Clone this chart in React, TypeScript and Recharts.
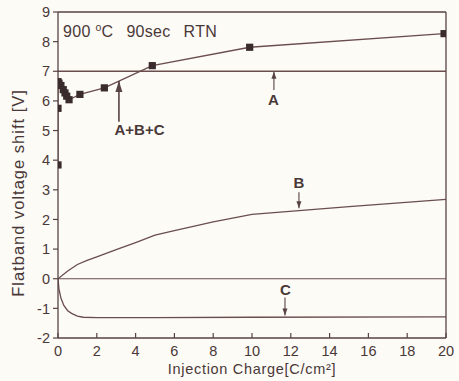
import React from 'react';
import {
  LineChart, Line, XAxis, YAxis, ReferenceLine, ReferenceDot, Label,
} from 'recharts';

// ---- data ----
const xTicks = [0, 2, 4, 6, 8, 10, 12, 14, 16, 18, 20];
const yTicks = [-2, -1, 0, 1, 2, 3, 4, 5, 6, 7, 8, 9];

const abcX = [0, 0, 0, 0.05, 0.15, 0.27, 0.36, 0.45, 0.57, 1.13, 2.39, 4.86, 9.88, 19.9];
const abcY = [3.84, 5.75, 6.65, 6.6, 6.52, 6.38, 6.27, 6.16, 6.04, 6.22, 6.44, 7.19, 7.81, 8.27];

const aX = [0, 20];
const aY = [7, 7];

const bX = [0, 0.5, 1, 1.5, 2, 3, 4, 5, 6, 8, 10, 15, 20];
const bY = [0, 0.26, 0.48, 0.62, 0.74, 0.98, 1.22, 1.47, 1.62, 1.92, 2.17, 2.43, 2.68];

const cX = [0, 0.05, 0.15, 0.3, 0.5, 0.7, 1, 1.3, 2, 5, 10, 20];
const cY = [0, -0.35, -0.65, -0.9, -1.08, -1.17, -1.26, -1.3, -1.31, -1.31, -1.3, -1.29];

const zeroX = [0, 20];
const zeroY = [0, 0];

const annLabels = ['A+B+C', 'A', 'B', 'C'];
const annX = [3.14, 11.13, 12.42, 11.7];
const annTail = [5.3, 6.37, 2.92, -0.63];
const annTip = [6.67, 6.98, 2.38, -1.24];
const annTextX = [4.2, 11.1, 12.42, 11.72];
const annTextY = [4.85, 5.86, 3.05, -0.56];

const toPts = (xs: number[], ys: number[]) => xs.map((x, i) => ({ x, y: ys[i] }));

const AXIS = '#574343';
const LINE = '#6a4d4d';
const TEXT = '#4a3838';
const MARK = '#3a2c2c';
const FONT = '"Liberation Sans", Arial, Helvetica, sans-serif';

const SquareDot = (props: any) => {
  const { cx, cy, index } = props;
  if (cx == null || cy == null) return <g key={`d${index}`} />;
  return <rect key={`d${index}`} x={cx - 3.6} y={cy - 3.6} width={7.2} height={7.2} fill={MARK} />;
};

const XTick = (props: any) => {
  const { x, y, payload } = props;
  const ay = y - 8;
  return (
    <g>
      <line x1={x} x2={x} y1={ay} y2={ay - 5} stroke={AXIS} strokeWidth={1.2} />
      <text x={x} y={y} dy="0.71em" textAnchor="middle" fill={TEXT} fontSize={14.5} fontFamily={FONT}>
        {payload.value}
      </text>
    </g>
  );
};

const makeArrowHead = (up: boolean, big: boolean) => (props: any) => {
  const { cx, cy } = props;
  const w = big ? 3.5 : 2.5;
  const l = big ? 11 : 7;
  const d = up
    ? `M${cx},${cy} L${cx - w},${cy + l} L${cx + w},${cy + l} Z`
    : `M${cx},${cy} L${cx - w},${cy - l} L${cx + w},${cy - l} Z`;
  return <path d={d} fill={AXIS} />;
};

const makeText = (label: string) => (props: any) => {
  const { cx, cy } = props;
  return (
    <text x={cx} y={cy} textAnchor="middle" fill={TEXT} fontSize={15} fontWeight="bold" fontFamily={FONT}>
      {label}
    </text>
  );
};

const TitleShape = (props: any) => {
  const { cx, cy } = props;
  return (
    <text x={cx} y={cy} fill={TEXT} fontSize={16} letterSpacing={0.3} fontFamily={FONT}>
      <tspan>900 </tspan>
      <tspan fontSize={10.5} dy={-6}>o</tspan>
      <tspan dy={6}>C</tspan>
      <tspan dx={13}>90sec</tspan>
      <tspan dx={13}>RTN</tspan>
    </text>
  );
};

export default function App() {
  return (
    <div style={{ position: 'absolute', left: 0, top: 0, width: 459, height: 381, background: '#fcfbf6' }}>
      <LineChart width={459} height={381} margin={{ top: 12, right: 13, bottom: 0, left: 0 }}>
        <XAxis
          type="number"
          dataKey="x"
          domain={[0, 20]}
          ticks={xTicks}
          allowDataOverflow
          height={43}
          axisLine={{ stroke: AXIS, strokeWidth: 1.3 }}
          tickLine={false}
          tickSize={0}
          tickMargin={8}
          tick={<XTick />}
        >
          <Label
            content={() => (
              <text x={252} y={374} textAnchor="middle" fill={TEXT} fontSize={14.5} letterSpacing={0.7} fontFamily={FONT}>
                Injection Charge[C/cm²]
              </text>
            )}
          />
        </XAxis>
        <YAxis
          type="number"
          dataKey="y"
          domain={[-2, 9]}
          ticks={yTicks}
          allowDataOverflow
          width={58}
          axisLine={{ stroke: AXIS, strokeWidth: 1.3 }}
          tickLine={{ stroke: AXIS, strokeWidth: 1.2 }}
          tickSize={5}
          tickMargin={3}
          tick={{ fill: TEXT, fontSize: 14.5, fontFamily: FONT }}
        >
          <Label
            content={() => (
              <text
                x={0}
                y={0}
                transform="translate(24,193) rotate(-90)"
                textAnchor="middle"
                fill={TEXT}
                fontSize={16.5}
                letterSpacing={1}
                fontFamily={FONT}
              >
                Flatband voltage shift [V]
              </text>
            )}
          />
        </YAxis>

        <ReferenceLine y={9} stroke={AXIS} strokeWidth={1.3} />
        <ReferenceLine x={20} stroke={AXIS} strokeWidth={1.3} />

        <Line data={toPts(aX, aY)} dataKey="y" stroke={LINE} strokeWidth={1.3} dot={false} isAnimationActive={false} />
        <Line data={toPts(zeroX, zeroY)} dataKey="y" stroke={LINE} strokeWidth={1.2} dot={false} isAnimationActive={false} />
        <Line data={toPts(bX, bY)} dataKey="y" stroke={LINE} strokeWidth={1.3} dot={false} isAnimationActive={false} />
        <Line data={toPts(cX, cY)} dataKey="y" stroke={LINE} strokeWidth={1.3} dot={false} isAnimationActive={false} />
        <Line
          data={toPts(abcX, abcY)}
          dataKey="y"
          stroke={LINE}
          strokeWidth={1.3}
          dot={<SquareDot />}
          isAnimationActive={false}
        />

        {annLabels.map((lab, i) => (
          <ReferenceLine
            key={`al${i}`}
            segment={[{ x: annX[i], y: annTail[i] }, { x: annX[i], y: annTip[i] }]}
            stroke={AXIS}
            strokeWidth={i === 0 ? 1.6 : 1.1}
          />
        ))}
        {annLabels.map((lab, i) => (
          <ReferenceDot
            key={`ah${i}`}
            x={annX[i]}
            y={annTip[i]}
            r={1}
            shape={makeArrowHead(annTip[i] > annTail[i], i === 0)}
          />
        ))}
        {annLabels.map((lab, i) => (
          <ReferenceDot key={`at${i}`} x={annTextX[i]} y={annTextY[i]} r={1} shape={makeText(lab)} />
        ))}
        <ReferenceDot x={0.26} y={8.15} r={1} shape={TitleShape} />
      </LineChart>
    </div>
  );
}
